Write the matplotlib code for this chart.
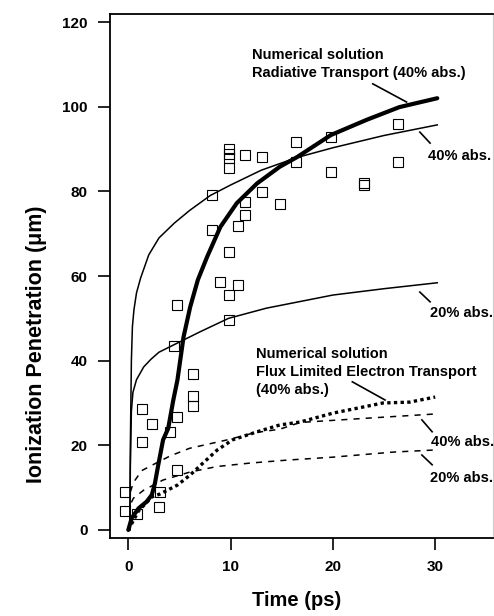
import matplotlib
matplotlib.use("Agg")
import matplotlib.pyplot as plt

plt.rcParams['font.family'] = ['Liberation Sans', 'DejaVu Sans']
plt.rcParams['font.weight'] = 'bold'

# Experimental data (squares)
data_t = [26.4, 19.8, 16.4, 16.4, 9.84, 9.84, 9.84, 9.84, 11.4, 13.1, 19.8, 26.4,
          23.0, 23.0, 8.2, 13.1, 11.4, 14.8, 11.4, 10.7, 8.2, 9.84, 9.0, 10.7, 9.84,
          4.75, 9.84, 4.5, 6.3, 6.3, 6.3, 1.35, 2.3, 4.75, 4.1, 1.35, 4.75,
          -0.3, 3.1, -0.3, 0.85, 3.0]
data_y = [95.9, 92.8, 91.7, 86.9, 89.9, 88.9, 87.8, 85.4, 88.6, 88.1, 84.6, 86.9,
          82.0, 81.6, 79.1, 79.8, 77.5, 77.0, 74.4, 71.8, 70.9, 65.7, 58.6, 57.9, 55.5,
          53.2, 49.6, 43.5, 36.9, 31.7, 29.3, 28.6, 25.0, 26.7, 23.2, 20.8, 14.2,
          9.0, 9.0, 4.5, 3.8, 5.4]

# Numerical solution, radiative transport (40% abs.)
rad_t = [0, 0.33, 1.0, 1.8, 2.3, 2.6, 2.9, 3.4, 3.9, 4.4, 4.8, 5.4, 6.05, 6.8, 7.7,
         9.0, 10.6, 12.6, 14.8, 16.5, 19.8, 23.3, 26.5, 30.2]
rad_y = [0, 2.8, 5.1, 6.7, 8.3, 11.0, 15.0, 21.3, 24.0, 30.7, 35.4, 45.6, 52.7, 59.1, 64.5,
         71.6, 77.2, 81.9, 85.8, 88.1, 93.3, 96.9, 99.9, 102.0]

# Analytic radiative, 40% abs.
a40_t = [0.15, 0.2, 0.3, 0.4, 0.55, 0.8, 1.2, 2.0, 3.0, 4.5, 6.0, 8.0, 10.0, 13.0,
         16.5, 20.0, 25.0, 30.2]
a40_y = [0, 20, 40, 48, 52, 56, 59.5, 65, 69, 72.5, 75.5, 79, 81.5, 85,
         88, 90.3, 93.2, 95.7]

# Analytic radiative, 20% abs.
a20_t = [0.15, 0.2, 0.3, 0.45, 0.8, 1.5, 2.2, 3.0, 4.5, 7.0, 9.8, 13.5, 20.0, 25.0, 30.2]
a20_y = [0, 15, 28, 32.5, 35.5, 38.5, 40.3, 42, 43.8, 46.8, 50.0, 52.4, 55.5, 57, 58.4]

# Numerical solution, flux limited electron transport (40% abs.)
flx_t = [0, 1.0, 2.3, 3.1, 4.8, 6.05, 7.3, 8.7, 10.2, 12.6, 14.8, 16.8, 20.0, 24.9, 27.5, 30.0]
flx_y = [0, 4.5, 7.8, 8.5, 10.6, 13.0, 15.8, 18.9, 21.3, 23.2, 24.8, 25.5, 27.6, 30.0, 30.2, 31.4]

# Analytic flux limited, 40% abs.
e40_t = [0.2, 0.5, 1.3, 2.4, 4.1, 6.0, 9.7, 12.4, 14.8, 16.8, 23.3, 30.0]
e40_y = [9.0, 11.2, 14.0, 15.4, 17.5, 19.3, 21.3, 23.0, 23.8, 25.4, 26.4, 27.4]

# Analytic flux limited, 20% abs.
e20_t = [0.3, 0.5, 1.5, 3.4, 6.05, 8.7, 11.9, 15.5, 20.0, 25.9, 30.0]
e20_y = [6.5, 7.5, 9.4, 11.8, 13.7, 15.0, 15.8, 16.5, 17.2, 18.4, 18.9]

x_ticks = [0, 10, 20, 30]
y_ticks = [0, 20, 40, 60, 80, 100, 120]

fig = plt.figure(figsize=(4.94, 6.16), dpi=100)
ax = fig.add_axes([110/494, 1-538/616, (493-110)/494, (538-14)/616])

ax.plot(a40_t, a40_y, color='black', lw=1.1, zorder=3)
ax.plot(a20_t, a20_y, color='black', lw=1.1, zorder=3)
ax.plot(rad_t, rad_y, color='black', lw=3.0, zorder=4, solid_capstyle='round')
ax.plot(flx_t, flx_y, color='black', lw=2.4, linestyle=(0, (1.0, 1.0)), zorder=3)
ax.plot(e40_t, e40_y, color='black', lw=1.1, linestyle=(0, (4, 4)), zorder=3)
ax.plot(e20_t, e20_y, color='black', lw=1.1, linestyle=(0, (4, 4)), zorder=3)
ax.plot(data_t, data_y, linestyle='none', marker='s', ms=6.5, mfc='none',
        mec='black', mew=0.8, zorder=5)

fs = 10.5
ls = 1.35
ax.text(12.1, 110.1, "Numerical solution\nRadiative Transport (40% abs.)",
        fontsize=fs, fontweight='bold', ha='left', va='center', linespacing=ls)
ax.text(12.5, 37.3, "Numerical solution\nFlux Limited Electron Transport\n(40% abs.)",
        fontsize=fs, fontweight='bold', ha='left', va='center', linespacing=ls)
ax.text(29.3, 88.3, "40% abs.", fontsize=fs, fontweight='bold', ha='left', va='center', clip_on=False)
ax.text(29.5, 51.3, "20% abs.", fontsize=fs, fontweight='bold', ha='left', va='center', clip_on=False)
ax.text(29.6, 20.8, "40% abs.", fontsize=fs, fontweight='bold', ha='left', va='center', clip_on=False)
ax.text(29.5, 12.3, "20% abs.", fontsize=fs, fontweight='bold', ha='left', va='center', clip_on=False)

leaders = [((23.9, 105.4), (27.2, 101.1)),
           ((28.5, 94.0), (29.5, 91.4)),
           ((28.5, 56.2), (29.5, 53.9)),
           ((21.9, 35.0), (25.1, 30.7)),
           ((28.7, 26.0), (29.7, 23.2)),
           ((28.7, 17.7), (29.7, 15.4))]
for (x0, y0), (x1, y1) in leaders:
    ax.plot([x0, x1], [y0, y1], color='black', lw=1.2)

ax.set_xlim(-1.79, 35.65)
ax.set_ylim(-1.9, 121.9)
ax.set_xticks(x_ticks)
ax.set_yticks(y_ticks)
ax.tick_params(direction='out', length=8.6, width=1.2, labelsize=11, pad=7.5)
for lab in ax.get_xticklabels() + ax.get_yticklabels():
    lab.set_fontweight('bold')
for s in ['left', 'bottom', 'top']:
    ax.spines[s].set_linewidth(1.3)
ax.spines['right'].set_color('#cccccc')
ax.spines['right'].set_linewidth(0.8)

fig.text(297/494, 1-601/616, "Time (ps)", fontsize=14.5, fontweight='bold', ha='center', va='center')
fig.text(36.5/494, 1-344/616, "Ionization Penetration (μm)", fontsize=15.5, fontweight='bold',
         ha='center', va='center', rotation=90)

fig.savefig("out.png", dpi=100)
